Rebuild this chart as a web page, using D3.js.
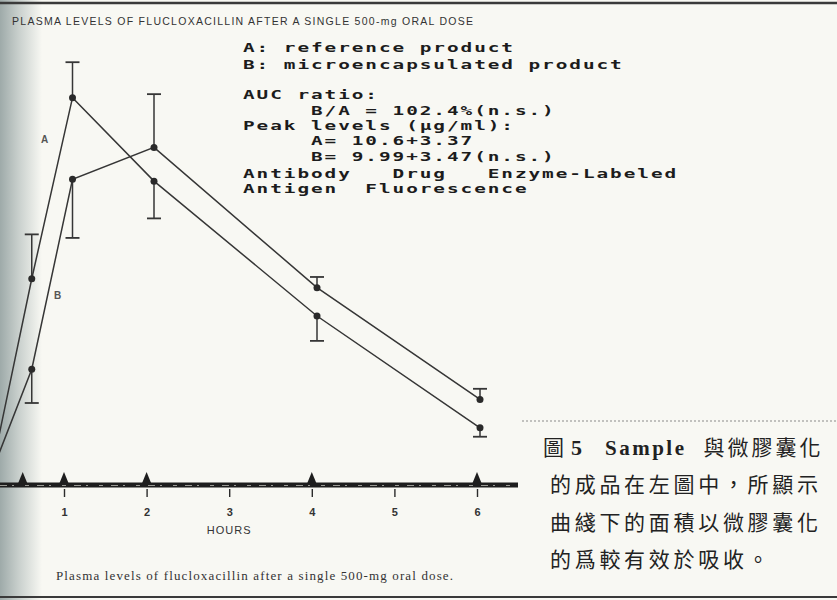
<!DOCTYPE html>
<html>
<head>
<meta charset="utf-8">
<script src="https://cdn.jsdelivr.net/npm/d3@7"></script>
<style>
  body { margin: 0; background: #f8f8f3; }
  svg { display: block; }
</style>
</head>
<body>
<svg id="chart" width="837" height="600"></svg>
<script>
// sampling times (hours) and mean plasma levels (µg/ml)
const hours = [0, 0.5, 1, 2, 4, 6];
const productA = [0, 5.5, 10.6, 8.25, 4.45, 1.3];
const productB = [0, 2.95, 8.3, 9.2, 5.25, 2.1];
// one-sided error bars, sign gives the side that was drawn
const errorA = [null, 1.25, 1.0, -1.05, -0.7, -0.25];
const errorB = [null, -0.95, -1.65, 1.5, 0.3, 0.3];
const axisTicks = [1, 2, 3, 4, 5, 6];
const sampleMarks = [0.5, 1, 2, 4, 6];

const titleText = "PLASMA LEVELS OF FLUCLOXACILLIN AFTER A SINGLE 500-mg ORAL DOSE";
const axisTitle = "HOURS";
const captionText = "Plasma levels of flucloxacillin after a single 500-mg oral dose.";
const infoLines = [
  "A: reference product",
  "B: microencapsulated product",
  "AUC ratio:",
  "     B/A = 102.4%(n.s.)",
  "Peak levels (µg/ml):",
  "     A= 10.6+3.37",
  "     B= 9.99+3.47(n.s.)",
  "Antibody   Drug   Enzyme-Labeled",
  "Antigen  Fluorescence"
];
const infoBaselines = [52, 69, 99, 115, 130, 145, 161, 178, 193];
const zhLine1 = ["圖", "5", "Sample", "與微膠囊化"];
const zhLines = ["的成品在左圖中，所顯示", "曲綫下的面積以微膠囊化", "的爲較有效於吸收。"];

const svg = d3.select("#chart");
const ink = "#2b2b2b";

// page shading at the binding edge
const defs = svg.append("defs");
const grad = defs.append("linearGradient").attr("id", "edge");
grad.append("stop").attr("offset", "0%").attr("stop-color", "#9eaaa9");
grad.append("stop").attr("offset", "45%").attr("stop-color", "#c9d0cd");
grad.append("stop").attr("offset", "100%").attr("stop-color", "#f8f8f3");
svg.append("rect").attr("width", 837).attr("height", 600).attr("fill", "#f8f8f3");
svg.append("rect").attr("width", 42).attr("height", 600).attr("fill", "url(#edge)");

// page rules top and bottom
svg.append("line").attr("x1", 0).attr("x2", 837).attr("y1", 3).attr("y2", 3)
  .attr("stroke", "#3a3a3a").attr("stroke-width", 2.5);
svg.append("line").attr("x1", 0).attr("x2", 837).attr("y1", 597).attr("y2", 597)
  .attr("stroke", "#3a3a3a").attr("stroke-width", 2);
svg.append("line").attr("x1", 522).attr("x2", 837).attr("y1", 421).attr("y2", 421)
  .attr("stroke", "#8a8a8a").attr("stroke-width", 1.2).attr("stroke-dasharray", "2,2");

// title
svg.append("text").attr("x", 12).attr("y", 25)
  .attr("textLength", 461).attr("lengthAdjust", "spacing")
  .style("font-family", "'Liberation Sans', Arial, sans-serif")
  .style("font-size", "10.5px").attr("fill", "#333")
  .text(titleText);

// scales: printed axis and the (slightly shifted) hand-plotted curves
const xAxis = d3.scaleLinear().domain([0, 6]).range([-18.6, 477]);
const xPlot = d3.scaleLinear().domain([0, 6]).range([-9, 480]);
const y = d3.scaleLinear().domain([0, 12]).range([474, 48]);

// x axis
svg.append("line").attr("x1", 0).attr("x2", 518).attr("y1", 485).attr("y2", 485)
  .attr("stroke", "#1e1e1e").attr("stroke-width", 5);
svg.append("line").attr("x1", 0).attr("x2", 518).attr("y1", 485.5).attr("y2", 485.5)
  .attr("stroke", "#9a9a94").attr("stroke-width", 1).attr("stroke-dasharray", "7,5,2,11,4,8");

const ax = svg.append("g").attr("transform", "translate(0,489)")
  .call(d3.axisBottom(xAxis).tickValues(axisTicks).tickFormat(d3.format("d"))
    .tickSize(8).tickSizeOuter(0).tickPadding(11));
ax.select(".domain").remove();
ax.selectAll(".tick line").attr("stroke", ink).attr("stroke-width", 1.4);
ax.selectAll(".tick text").attr("fill", "#333")
  .style("font-family", "'Liberation Sans', Arial, sans-serif")
  .style("font-size", "11px").style("font-weight", "bold");

svg.append("text").attr("x", xAxis(3)).attr("y", 534).attr("text-anchor", "middle")
  .style("font-family", "'Liberation Sans', Arial, sans-serif")
  .style("font-size", "11px").style("letter-spacing", "1px").attr("fill", "#333")
  .text(axisTitle);

// sampling-time triangles on the axis
svg.append("g").selectAll("path").data(sampleMarks).enter().append("path")
  .attr("d", d => `M${xAxis(d) - 4.5},483 L${xAxis(d)},472 L${xAxis(d) + 4.5},483 Z`)
  .attr("fill", "#1e1e1e");

// curves
const series = [
  { name: "A", values: productA, errors: errorA },
  { name: "B", values: productB, errors: errorB }
];
const line = d3.line().x(d => xPlot(d.t)).y(d => y(d.v));

series.forEach(s => {
  const pts = hours.map((t, i) => ({ t: t, v: s.values[i], e: s.errors[i] }));
  svg.append("path").datum(pts).attr("d", line)
    .attr("fill", "none").attr("stroke", "#363636").attr("stroke-width", 1.5);

  const marked = pts.filter(p => p.e !== null);
  const g = svg.append("g");
  g.selectAll(".bar").data(marked).enter().append("line")
    .attr("x1", d => xPlot(d.t)).attr("x2", d => xPlot(d.t))
    .attr("y1", d => y(d.v)).attr("y2", d => y(d.v + d.e))
    .attr("stroke", "#363636").attr("stroke-width", 1.5);
  g.selectAll(".cap").data(marked).enter().append("line")
    .attr("x1", d => xPlot(d.t) - 7).attr("x2", d => xPlot(d.t) + 7)
    .attr("y1", d => y(d.v + d.e)).attr("y2", d => y(d.v + d.e))
    .attr("stroke", "#363636").attr("stroke-width", 1.8);
  g.selectAll("circle").data(marked).enter().append("circle")
    .attr("cx", d => xPlot(d.t)).attr("cy", d => y(d.v)).attr("r", 3.5)
    .attr("fill", "#2a2a2a");
});

// curve labels
svg.append("text").attr("x", 41).attr("y", 143).text("A")
  .style("font-family", "'Liberation Sans', Arial, sans-serif")
  .style("font-size", "10px").style("font-weight", "bold").attr("fill", "#555");
svg.append("text").attr("x", 54).attr("y", 299).text("B")
  .style("font-family", "'Liberation Sans', Arial, sans-serif")
  .style("font-size", "10px").style("font-weight", "bold").attr("fill", "#555");

// dot-matrix style note block
const pitch = 13.6, stretch = 1.55, monoSize = 12.5;
const info = svg.append("g").attr("transform", `translate(243,0) scale(${stretch},1)`);
info.selectAll("text").data(infoLines).enter().append("text")
  .attr("x", 0).attr("y", (d, i) => infoBaselines[i])
  .style("white-space", "pre")
  .style("font-family", "'DejaVu Sans Mono', monospace")
  .style("font-size", monoSize + "px").style("font-weight", "bold")
  .style("letter-spacing", (pitch / stretch - monoSize * 0.602) + "px")
  .attr("fill", "#1c1c1c")
  .text(d => d);

// caption under the chart
svg.append("text").attr("x", 56).attr("y", 580)
  .attr("textLength", 397).attr("lengthAdjust", "spacing")
  .style("font-family", "'Liberation Serif', 'Times New Roman', serif")
  .style("font-size", "13px").attr("fill", "#333")
  .text(captionText);

// Chinese caption
const zhFont = "'Noto Sans CJK TC', 'Noto Sans CJK SC', sans-serif";
const serif = "'Liberation Serif', 'Times New Roman', serif";
const t1 = svg.append("text").attr("x", 543).attr("y", 455).attr("fill", "#222");
t1.append("tspan").text(zhLine1[0]).style("font-family", zhFont).style("font-size", "21px");
t1.append("tspan").attr("dx", 7).text(zhLine1[1]).style("font-family", serif)
  .style("font-size", "22px").style("font-weight", "bold");
t1.append("tspan").attr("dx", 23).text(zhLine1[2]).style("font-family", serif)
  .style("font-size", "21px").style("font-weight", "bold").style("letter-spacing", "2.5px");
t1.append("tspan").attr("dx", 17).text(zhLine1[3]).style("font-family", zhFont)
  .style("font-size", "21px").style("letter-spacing", "3px");

svg.append("g").selectAll("text").data(zhLines).enter().append("text")
  .attr("x", 550).attr("y", (d, i) => 492 + i * 37.5)
  .style("font-family", zhFont).style("font-size", "21px").style("letter-spacing", "3.7px")
  .attr("fill", "#222")
  .text(d => d);
</script>
</body>
</html>
